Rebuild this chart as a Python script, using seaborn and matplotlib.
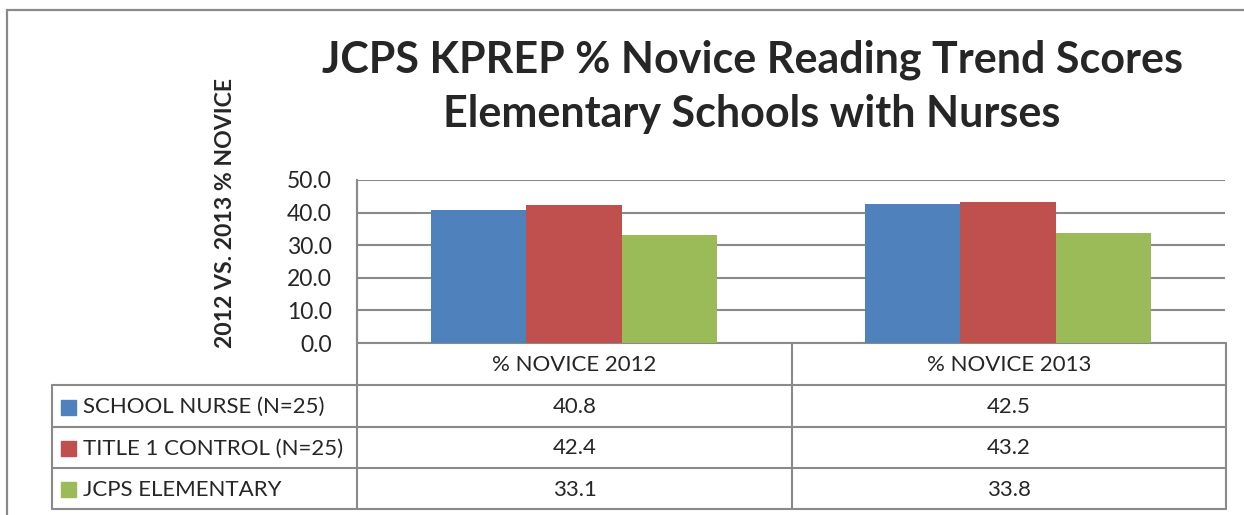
import pandas as pd
import numpy as np
import seaborn as sns
import matplotlib
matplotlib.use('Agg')
import matplotlib.pyplot as plt

# Data
periods = ['% NOVICE 2012', '% NOVICE 2013']
series = ['SCHOOL NURSE (N=25)', 'TITLE 1 CONTROL (N=25)', 'JCPS ELEMENTARY']
nurse = [40.8, 42.5]
title1 = [42.4, 43.2]
jcps = [33.1, 33.8]
colors = ['#4F81BD', '#C0504D', '#9BBB59']

values = [nurse, title1, jcps]
df = pd.DataFrame({
    'period': periods * 3,
    'series': np.repeat(series, 2),
    'value': nurse + title1 + jcps,
})

sns.set_style('white')
plt.rcParams['font.family'] = ['Lato', 'DejaVu Sans']

W, H = 1244, 515
fig = plt.figure(figsize=(W / 100, H / 100), dpi=100)

# background axes in pixel coords for frame, title and data table
bg = fig.add_axes([0, 0, 1, 1])
bg.set_xlim(0, W)
bg.set_ylim(H, 0)
bg.axis('off')

grey = '#8A8A8A'

# outer chart border (only top and left visible)
bg.plot([7, W], [10, 10], color=grey, lw=1.6)
bg.plot([7, 7], [10, H], color=grey, lw=1.6)

# plot area
x0, x1, ytop, ybot = 357, 1225, 180, 343
ax = fig.add_axes([x0 / W, 1 - ybot / H, (x1 - x0) / W, (ybot - ytop) / H])
sns.barplot(data=df, x='period', y='value', hue='series', palette=colors,
            width=0.66, gap=0, saturation=1, legend=False, ax=ax,
            edgecolor='none', errorbar=None)
ax.set_ylim(0, 50)
ax.set_yticks(np.arange(0, 51, 10))
ax.set_yticklabels([f'{v:.1f}' for v in np.arange(0, 51, 10)], fontsize=16.5)
ax.set_xticks([])
ax.set_xlabel('')
ax.set_ylabel('')
ax.grid(axis='y', color=grey, lw=1.5)
ax.set_axisbelow(True)
for s in ['top', 'right', 'bottom']:
    ax.spines[s].set_visible(False)
ax.spines['left'].set_color(grey)
ax.spines['left'].set_linewidth(1.5)
ax.tick_params(axis='y', length=3, color=grey, width=1.5, pad=15)
ax.patch.set_alpha(0)

# title and axis label
bg.text(752, 73, 'JCPS KPREP % Novice Reading Trend Scores', ha='center',
        va='baseline', fontsize=31, fontweight='bold')
bg.text(752, 127, 'Elementary Schools with Nurses', ha='center',
        va='baseline', fontsize=31, fontweight='bold')
bg.text(225, 213, '2012 VS. 2013 % NOVICE', rotation=90, ha='center',
        va='center', fontsize=16.6, fontweight='bold')

# data table
tl, tc, tr = 52, 792, 1226
rows = [343, 385, 427, 468, 509]
kw = dict(color=grey, lw=1.5)
bg.plot([x0, tr], [rows[0], rows[0]], **kw)
for r in rows[1:]:
    bg.plot([tl, tr], [r, r], **kw)
bg.plot([x0, x0], [ytop, rows[-1]], **kw)
bg.plot([tc, tc], [rows[0], rows[-1]], **kw)
bg.plot([tr, tr], [rows[0], rows[-1]], **kw)
bg.plot([tl, tl], [rows[1], rows[-1]], **kw)

col_c = [(x0 + tc) / 2, (tc + tr) / 2]
for c, p in zip(col_c, periods):
    bg.text(c, (rows[0] + rows[1]) / 2 + 1, p, ha='center', va='center', fontsize=16)
for i, (name, vals, col) in enumerate(zip(series, values, colors)):
    cy = (rows[i + 1] + rows[i + 2]) / 2 + 1
    bg.add_patch(plt.Rectangle((61, cy - 7.5), 15, 15, color=col))
    bg.text(83, cy, name, ha='left', va='center', fontsize=16)
    for c, v in zip(col_c, vals):
        bg.text(c, cy, f'{v:.1f}', ha='center', va='center', fontsize=16)

fig.savefig('out.png', dpi=100)
